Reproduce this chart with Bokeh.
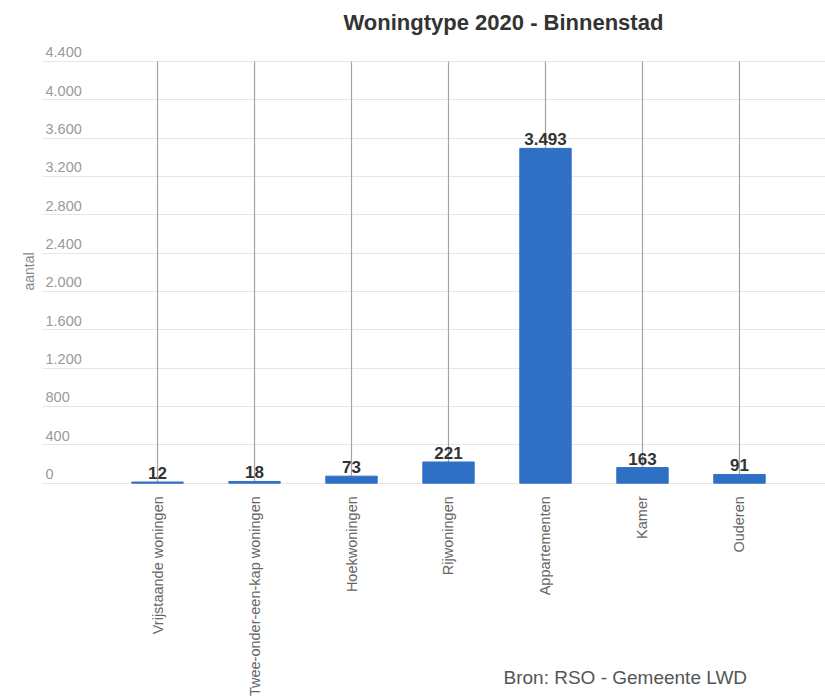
import math
from bokeh.plotting import figure
from bokeh.models import (Range1d, FixedTicker, Label, LabelSet, ColumnDataSource, Title)
from bokeh.core.properties import value
from bokeh.embed import file_html
from bokeh.resources import INLINE

# ---- data ----
categories = ["Vrijstaande woningen", "Twee-onder-een-kap woningen", "Hoekwoningen",
              "Rijwoningen", "Appartementen", "Kamer", "Ouderen"]
counts = [12, 18, 73, 221, 3493, 163, 91]
value_labels = ["12", "18", "73", "221", "3.493", "163", "91"]
y_ticks = [0, 400, 800, 1200, 1600, 2000, 2400, 2800, 3200, 3600, 4000, 4400]
y_tick_labels = ["0", "400", "800", "1.200", "1.600", "2.000", "2.400", "2.800",
                 "3.200", "3.600", "4.000", "4.400"]
title_text = "Woningtype 2020 - Binnenstad"
y_axis_title = "aantal"
source_text = "Bron: RSO - Gemeente LWD"

FONT = "Liberation Sans"
positions = list(range(len(categories)))
y_axis_max = y_ticks[-1]

# layout: the frame runs to the bottom of the page, the category axis sits at y = 0
x_start, x_end = -1.186, 6.887
y_start, y_end = -2236, 4608

p = figure(width=825, height=697, output_backend="svg", toolbar_location=None,
           x_range=Range1d(x_start, x_end), y_range=Range1d(y_start, y_end),
           min_border_left=42, min_border_right=0, min_border_top=39,
           min_border_bottom=0)
p.outline_line_color = None
p.background_fill_color = "white"
p.border_fill_color = "white"

# title
p.title.text = title_text
p.title.align = "left"
p.title.offset = 301
p.title.standoff = 14
p.title.text_font = FONT
p.title.text_font_size = "22px"
p.title.text_font_style = "bold"
p.title.text_color = "#333333"

# grids: horizontal lines at the value ticks, vertical lines drawn per category
p.xgrid.visible = False
p.ygrid.ticker = FixedTicker(ticks=y_ticks)
p.ygrid.grid_line_color = "#e6e6e6"
p.ygrid.grid_line_width = 1
p.segment(x0=positions, y0=[0] * len(positions), x1=positions,
          y1=[y_axis_max] * len(positions), line_color="#a4a4a4", line_width=1.2)

# x axis (category labels) pinned at y = 0
xa = p.xaxis[0]
xa.fixed_location = 0
xa.ticker = FixedTicker(ticks=positions)
xa.major_label_overrides = {i: c for i, c in zip(positions, categories)}
xa.major_label_orientation = math.pi / 2
xa.major_tick_out = 0
xa.major_tick_in = 0
xa.minor_tick_out = 0
xa.minor_tick_in = 0
xa.axis_line_color = None
xa.major_label_standoff = 13
xa.major_label_text_font = FONT
xa.major_label_text_font_size = "14.5px"
xa.major_label_text_color = "#666666"

# y axis hidden; its title is a side title, tick labels drawn inside the frame
p.yaxis.visible = False
p.add_layout(Title(text=y_axis_title, align="left", offset=407, standoff=12,
                   text_font=FONT, text_font_size="14px", text_font_style="normal",
                   text_color="#888888"), "left")

# bars
src = ColumnDataSource(dict(x=positions, count=counts, label=value_labels))
p.vbar(x="x", top="count", width=0.53, source=src, fill_color="#3070c4",
       line_color="#3070c4")

# value labels
p.text(x="x", y="count", text="label", source=src, text_align="center",
       text_baseline="bottom", y_offset=-3, text_font=value(FONT),
       text_font_style="bold", text_font_size="17px", text_color="#333333")

# y tick labels inside the plot area
ysrc = ColumnDataSource(dict(x=[x_start] * len(y_ticks), y=y_ticks, text=y_tick_labels))
p.add_layout(LabelSet(x="x", y="y", text="text", source=ysrc, x_offset=3, y_offset=4,
                      text_align="left", text_baseline="alphabetic",
                      text_font=value(FONT), text_font_size="14.5px",
                      text_color="#9a9a9a"))

# source note
p.add_layout(Label(x=3.567, y=-2028, text=source_text, text_align="left",
                   text_baseline="middle", text_font=FONT,
                   text_font_size="19px", text_color="#555555"))

open("out.html", "w").write(file_html(p, INLINE))
